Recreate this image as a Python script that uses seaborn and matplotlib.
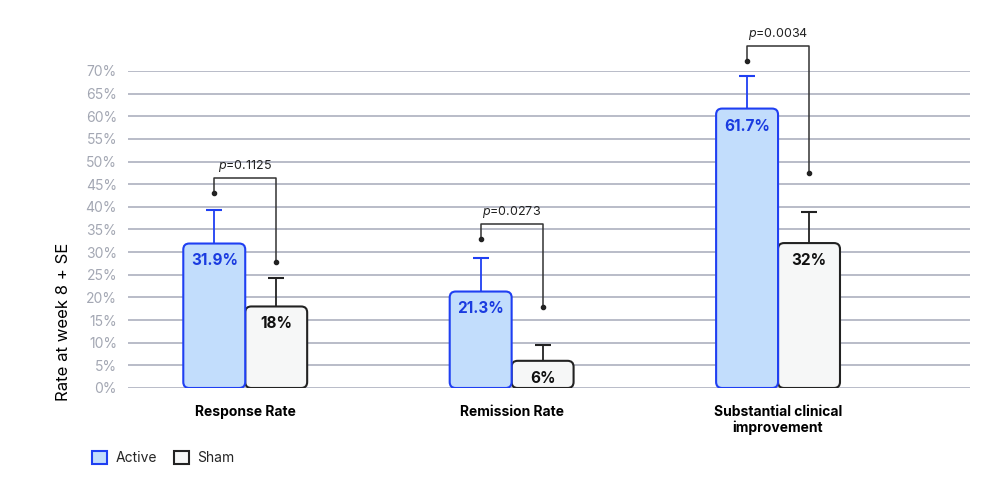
import pandas as pd
import matplotlib.pyplot as plt
import seaborn as sns
from matplotlib.patches import FancyBboxPatch, Patch
from matplotlib.ticker import FuncFormatter

categories = ['Response Rate', 'Remission Rate', 'Substantial clinical\nimprovement']
groups = ['Active', 'Sham']
active_vals = [31.9, 21.3, 61.7]
sham_vals = [18, 6, 32]
active_se = [7.5, 7.4, 7.2]
sham_se = [6.3, 3.6, 6.9]
p_labels = ['0.1125', '0.0273', '0.0034']
# bracket: left dot, top line, right dot (in %)
bracket_left = [43.0, 32.9, 72.2]
bracket_top = [46.4, 36.2, 75.5]
bracket_right = [27.8, 17.9, 47.5]

blue_edge = '#1f3ff2'
blue_fill = '#c2ddfc'
blue_text = '#1a3be0'
sham_edge = '#222222'
sham_fill = '#f6f7f7'

sns.set_theme(style='white')
plt.rcParams['font.family'] = ['Inter', 'DejaVu Sans']
plt.rcParams['mathtext.fontset'] = 'custom'
plt.rcParams['mathtext.it'] = 'Inter:italic'
plt.rcParams['mathtext.rm'] = 'Inter'

df = pd.DataFrame({
    'category': categories * 2,
    'group': [groups[0]] * 3 + [groups[1]] * 3,
    'value': active_vals + sham_vals,
})

fig = plt.figure(figsize=(10.04, 4.94), dpi=100)
ax = fig.add_axes([0.1275, 0.2146, 0.8385, 0.6417])

sns.barplot(data=df, x='category', y='value', hue='group', hue_order=groups,
            palette=[blue_fill, sham_fill], width=0.465, gap=0, legend=False, ax=ax)

ax.set_ylim(0, 70)
ax.set_xlim(-0.44, 2.72)
ax.set_yticks(range(0, 71, 5))
ax.yaxis.set_major_formatter(FuncFormatter(lambda v, _: f'{int(v)}%'))
ax.grid(axis='y', color='#b9bcc8', linewidth=1.4)
ax.set_axisbelow(True)
for s in ax.spines.values():
    s.set_visible(False)
ax.tick_params(axis='y', length=0, labelsize=10, labelcolor='#a3a7b3', pad=8)
ax.tick_params(axis='x', length=0, pad=12)
for lbl in ax.get_xticklabels():
    lbl.set_fontweight('bold')
    lbl.set_fontsize(10)
    lbl.set_color('black')
    lbl.set_va('top')
ax.set_xlabel('')
ax.set_ylabel('Rate at week 8 + SE', fontsize=12, color='black')
ax.yaxis.set_label_coords(-0.068, 0.21)

# aspect for rounded corners
fig.canvas.draw()
bbox = ax.get_window_extent()
xu_per_px = (ax.get_xlim()[1] - ax.get_xlim()[0]) / bbox.width
yu_per_px = (ax.get_ylim()[1] - ax.get_ylim()[0]) / bbox.height
aspect = yu_per_px / xu_per_px
r = 6 * xu_per_px

bars = list(ax.patches)
centers = []
for i, p in enumerate(bars):
    x, y, w, h = p.get_x(), p.get_y(), p.get_width(), p.get_height()
    active = i < 3
    p.set_visible(False)
    fb = FancyBboxPatch((x, y), w, h, boxstyle=f'round,pad=0,rounding_size={r}',
                        mutation_aspect=aspect,
                        facecolor=blue_fill if active else sham_fill,
                        edgecolor=blue_edge if active else sham_edge,
                        linewidth=1.5, zorder=3 if active else 2)
    ax.add_patch(fb)
    centers.append(x + w / 2)

vals = active_vals + sham_vals
ses = active_se + sham_se
for i in range(6):
    active = i < 3
    col = blue_edge if active else sham_edge
    top = vals[i] + ses[i]
    ax.plot([centers[i], centers[i]], [vals[i], top], color=col, linewidth=1.3, zorder=1)
    ax.plot([centers[i]], [top], marker='_', markersize=12, markeredgewidth=1.5,
            color=col, zorder=1)
    ax.text(centers[i], vals[i] - 2.2, f'{vals[i]:g}%', ha='center', va='top',
            fontsize=11, fontweight='bold', color=blue_text if active else '#111111',
            zorder=5)

for k in range(3):
    xl, xr = centers[k], centers[k + 3]
    ax.plot([xl, xl, xr, xr], [bracket_left[k], bracket_top[k], bracket_top[k], bracket_right[k]],
            color='#333333', linewidth=1.1, clip_on=False, zorder=4)
    ax.plot([xl, xr], [bracket_left[k], bracket_right[k]], 'o', color='#222222',
            markersize=3, clip_on=False, zorder=4)
    ax.text((xl + xr) / 2, bracket_top[k] + 0.8, f'$p$=' + p_labels[k], ha='center',
            va='bottom', fontsize=9, color='#222222', clip_on=False)

handles = [Patch(facecolor=blue_fill, edgecolor=blue_edge, linewidth=1.5, label='Active'),
           Patch(facecolor=sham_fill, edgecolor=sham_edge, linewidth=1.5, label='Sham')]
fig.legend(handles=handles, loc='center left', bbox_to_anchor=(0.079, 0.073), ncol=2,
           frameon=False, handlelength=1.1, handleheight=1.1, handletextpad=0.6,
           columnspacing=1.2, fontsize=10)

fig.savefig('out.png', dpi=100)
